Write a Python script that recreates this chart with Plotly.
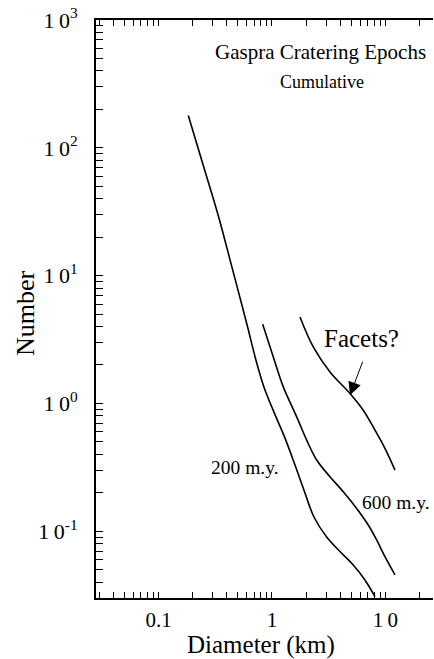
import numpy as np
import plotly.graph_objects as go

# Cumulative crater counts on Gaspra for the two model surface ages
diam_200 = [0.183, 0.2466, 0.336, 0.4442, 0.598, 0.7228, 0.8503, 1.041, 1.302,
            1.595, 1.953, 2.344, 3.034, 4.113, 5.203, 6.597, 8.08]
num_200 = [178.8, 74.07, 29.59, 11.61, 4.240, 2.179, 1.341, 0.855, 0.5357,
           0.3296, 0.1991, 0.1293, 0.0902, 0.0673, 0.0545, 0.0416, 0.0308]

diam_600 = [0.828, 1.027, 1.258, 1.651, 2.022, 2.476, 3.243, 4.249, 5.575, 7.054,
            8.365, 9.90, 12.13]
num_600 = [4.165, 2.313, 1.348, 0.786, 0.517, 0.361, 0.267, 0.204, 0.151, 0.1120,
           0.0855, 0.0633, 0.0456]

# Large-crater branch possibly tied to facets
diam_facets = [1.765, 2.311, 3.243, 4.867, 6.374, 8.08, 9.90, 12.13]
num_facets = [4.75, 2.768, 1.765, 1.197, 0.886, 0.619, 0.445, 0.301]

# Arrow tail and tip for the "Facets?" callout (data units)
facet_arrow_tail = (6.37, 2.18)
facet_arrow_tip = (4.87, 1.16)

# Axis ticks
x_decades = [0.01, 0.1, 1, 10, 100]
x_decade_labels = ["", "0.1", "1", "1\u20090", ""]
y_decades = [0.01, 0.1, 1, 10, 100, 1000]
y_decade_labels = ["", "1\u20090<sup>-1</sup>", "1\u20090<sup>0</sup>", "1\u20090<sup>1</sup>",
                   "1\u20090<sup>2</sup>", "1\u20090<sup>3</sup>"]


def log_ticks(decades, labels):
    vals, texts = [], []
    for d, lab in zip(decades, labels):
        for m in range(1, 10):
            vals.append(d * m)
            texts.append(lab if m == 1 else "")
    return vals, texts


xt_vals, xt_text = log_ticks(x_decades, x_decade_labels)
yt_vals, yt_text = log_ticks(y_decades, y_decade_labels)

FONT = "Liberation Serif, Times New Roman, serif"
line_style = dict(color="black", width=1.6, shape="spline", smoothing=1.0)

fig = go.Figure()
for xs, ys in [(diam_200, num_200), (diam_600, num_600), (diam_facets, num_facets)]:
    fig.add_trace(go.Scatter(x=xs, y=ys, mode="lines", line=line_style,
                             showlegend=False, hoverinfo="skip"))

x_range = [-1.551, 1.419]
y_range = [-1.522, 3.0]

fig.update_layout(
    width=434, height=659,
    margin=dict(l=96, r=1, t=20, b=61),
    paper_bgcolor="white", plot_bgcolor="white",
    font=dict(family=FONT, color="black"),
    xaxis=dict(
        type="log", range=x_range, tickmode="array", tickvals=xt_vals, ticktext=xt_text,
        ticks="inside", ticklen=6, tickwidth=1, tickcolor="black",
        showline=True, linecolor="black", linewidth=2, mirror="ticks",
        showgrid=False, zeroline=False, tickfont=dict(size=21, family=FONT),
        ticklabelstandoff=2,
    ),
    yaxis=dict(
        type="log", range=y_range, tickmode="array", tickvals=yt_vals, ticktext=yt_text,
        ticks="inside", ticklen=7, tickwidth=1, tickcolor="black",
        showline=True, linecolor="black", linewidth=2,
        showgrid=False, zeroline=False, tickfont=dict(size=22, family=FONT),
        ticklabelstandoff=12,
    ),
    yaxis2=dict(
        type="log", range=y_range, overlaying="y", side="right",
        tickmode="array", tickvals=yt_vals, ticktext=[""] * len(yt_vals),
        ticks="inside", ticklen=5, tickwidth=1, tickcolor="#b0b0b0",
        showline=False, showgrid=False, zeroline=False, showticklabels=False,
    ),
)


def px_x(p):
    return (p - 96) / 337


def px_y(p):
    return (598 - p) / 578


texts = [
    ("Gaspra Cratering Epochs", 320, 52, 21),
    ("Cumulative", 322, 82, 18),
    ("Facets?", 361, 338, 25),
    ("200 m.y.", 245, 467, 19.5),
    ("600 m.y.", 396, 502, 19.5),
]
for t, x, y, s in texts:
    fig.add_annotation(text=t, x=px_x(x), y=px_y(y), xref="paper", yref="paper",
                       xanchor="center", yanchor="middle", showarrow=False,
                       font=dict(size=s, family=FONT, color="black"))

# Axis titles
fig.add_annotation(text="Diameter (km)", x=px_x(261), y=px_y(645), xref="paper", yref="paper",
                   xanchor="center", yanchor="middle", showarrow=False,
                   font=dict(size=25, family=FONT, color="black"))
fig.add_annotation(text="Number", x=px_x(25), y=px_y(313), xref="paper", yref="paper",
                   xanchor="center", yanchor="middle", showarrow=False, textangle=-90,
                   font=dict(size=26, family=FONT, color="black"))

# Callout arrow (annotation positions on log axes are in log10 units)
fig.add_annotation(
    x=np.log10(facet_arrow_tip[0]), y=np.log10(facet_arrow_tip[1]),
    ax=np.log10(facet_arrow_tail[0]), ay=np.log10(facet_arrow_tail[1]),
    xref="x", yref="y", axref="x", ayref="y", text="",
    showarrow=True, arrowhead=2, arrowsize=2.6, arrowwidth=1, arrowcolor="black",
)

fig.write_html("out.html")
